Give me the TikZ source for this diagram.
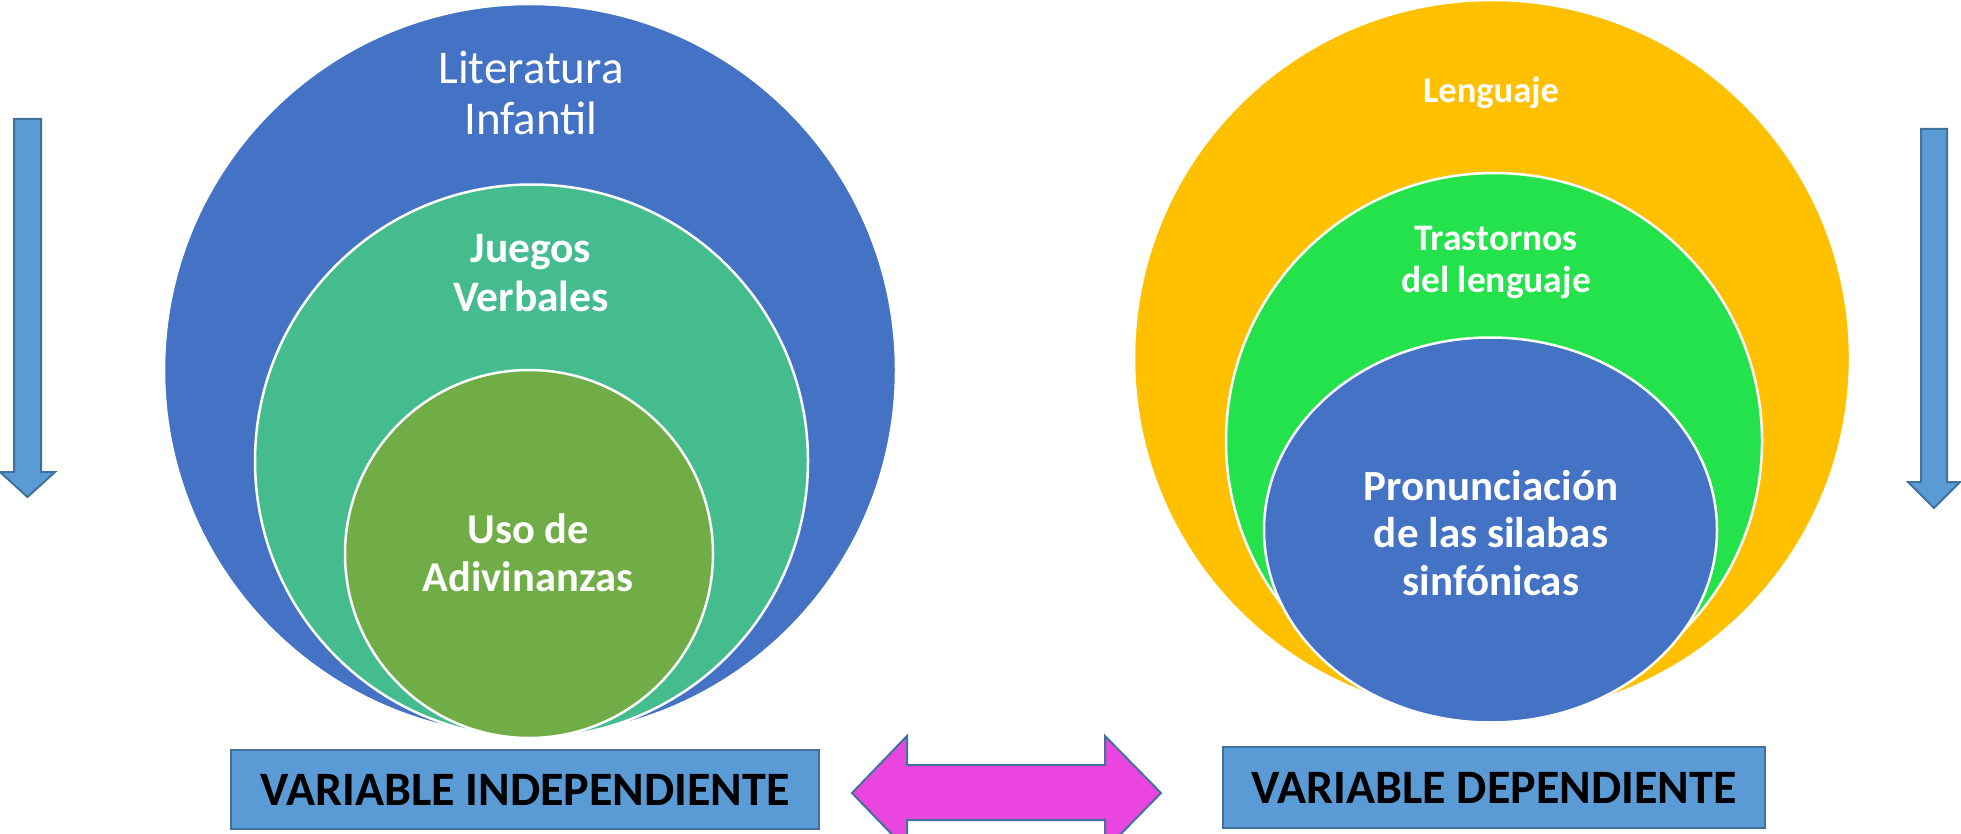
\documentclass[tikz,border=0pt]{standalone}
\usepackage{fontspec}
\setmainfont{Carlito}
\usetikzlibrary{shapes.geometric}
\definecolor{cblue}{HTML}{4472C4}
\definecolor{cteal}{HTML}{44BC8E}
\definecolor{cgreen}{HTML}{70AD47}
\definecolor{cyellow}{HTML}{FFC000}
\definecolor{cbright}{HTML}{24E24B}
\definecolor{boxblue}{HTML}{5B9BD5}
\definecolor{boxline}{HTML}{41719C}
\definecolor{cmag}{HTML}{EB45E0}
\begin{document}
\begin{tikzpicture}[x=1pt,y=-1pt,
  disc/.style={circle,draw=white,line width=2.5pt,inner sep=0pt},
  oval/.style={ellipse,draw=white,line width=2.5pt,inner sep=0pt},
  lbl/.style={text=white,align=center,inner sep=0pt},
  varbox/.style={draw=boxline,fill=boxblue,line width=2.5pt,inner sep=0pt,
     font=\bfseries\fontsize{48}{52}\selectfont},
  blockarrow/.style={draw=boxline,line width=2pt,line join=miter}]
\useasboundingbox (0,0) rectangle (1961,834);

% left set of circles
\node[disc,fill=cblue,minimum size=732pt] (litc) at (530,370) {};
\node[disc,fill=cteal,minimum size=553pt] (juec) at (531.5,461) {};
\node[disc,fill=cgreen,minimum size=368pt] (usoc) at (529,554) {};

% right set of circles
\node[disc,fill=cyellow,minimum size=716pt] (lenc) at (1492,358) {};
\node[disc,fill=cbright,minimum size=536pt] (trac) at (1494,441) {};
\node[oval,fill=cblue,minimum width=453pt,minimum height=385pt] (proc) at (1490.5,530) {};

% labels
\node[lbl,font=\fontsize{47}{51}\selectfont] (litt) at (531,93) {Literatura\\Infantil};
\node[lbl,font=\bfseries\fontsize{43.5}{49}\selectfont] (juet) at (531,273) {Juegos\\Verbales};
\node[lbl,font=\bfseries\fontsize{42.5}{48}\selectfont] (usot) at (528,553) {Uso de\\Adivinanzas};
\node[lbl,font=\bfseries\fontsize{36.5}{40}\selectfont,text depth=0pt] (lent) at (1491,90) {Lenguaje};
\node[lbl,font=\bfseries\fontsize{37.5}{42.5}\selectfont] (trat) at (1496,262.5) {Trastornos\\del lenguaje};
\node[lbl,font=\bfseries\fontsize{43}{47.5}\selectfont] (prot) at (1491,533) {Pronunciación\\de las silabas\\sinfónicas};

% bottom boxes
\node[varbox,minimum width=588pt,minimum height=79pt] (vind) at (525,789.5) {VARIABLE INDEPENDIENTE};
\node[varbox,minimum width=542pt,minimum height=81pt] (vdep) at (1494,787.5) {VARIABLE DEPENDIENTE};

% double arrow
\draw[blockarrow,fill=cmag] (852,793) -- (907,736) -- (907,765) -- (1105,765) -- (1105,736)
  -- (1161,793) -- (1105,850) -- (1105,820) -- (907,820) -- (907,850) -- cycle;

% down arrows
\draw[blockarrow,fill=boxblue] (14,119) -- (41,119) -- (41,472) -- (55,472) -- (27.5,497)
  -- (0,472) -- (14,472) -- cycle;
\draw[blockarrow,fill=boxblue] (1921,129) -- (1947,129) -- (1947,482) -- (1960,482) -- (1934,508)
  -- (1908,482) -- (1921,482) -- cycle;
\end{tikzpicture}
\end{document}
